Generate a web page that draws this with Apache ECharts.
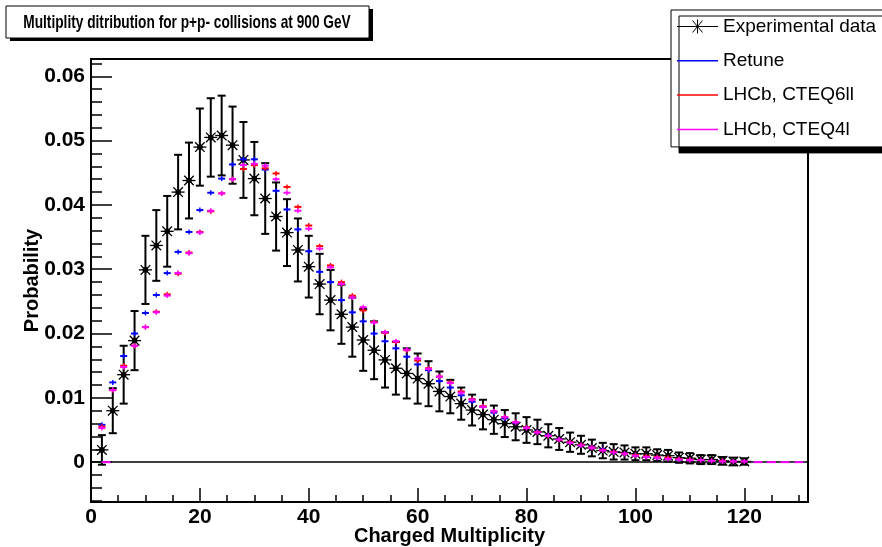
<!DOCTYPE html>
<html><head><meta charset="utf-8">
<script src="https://cdn.jsdelivr.net/npm/echarts@6/dist/echarts.min.js"></script>
<style>html,body{margin:0;padding:0;background:#fff}#c{width:882px;height:547px}</style>
</head><body><div id="c"></div>
<script>
const titleText = 'Multiplity ditribution for p+p- collisions at 900 GeV';
const xAxisTitle = 'Charged Multiplicity';
const yAxisTitle = 'Probability';
const seriesNames = ['Experimental data', 'Retune', 'LHCb, CTEQ6ll', 'LHCb, CTEQ4l'];

const multiplicity = [2,4,6,8,10,12,14,16,18,20,22,24,26,28,30,32,34,36,38,40,42,44,46,48,50,52,54,56,58,60,
  62,64,66,68,70,72,74,76,78,80,82,84,86,88,90,92,94,96,98,100,102,104,106,108,110,112,114,116,118,120];

const expData = [0.0019,0.0080,0.0136,0.0189,0.0299,0.0337,0.0359,0.0420,0.0438,0.0490,
  0.0505,0.0508,0.0493,0.0470,0.0441,0.0410,0.0382,0.0357,0.0330,0.0304,
  0.0277,0.0252,0.0230,0.0210,0.0190,0.0174,0.0159,0.0146,0.0138,0.0130,
  0.0122,0.0110,0.0102,0.0091,0.0081,0.0074,0.0066,0.0060,0.0055,0.0050,
  0.0047,0.0041,0.0036,0.0031,0.0027,0.0022,0.0018,0.0016,0.0015,0.0013,
  0.0013,0.0011,0.0010,0.0007,0.0006,0.0004,0.0004,0.0002,0.0001,0.0001];

const expErr = [0.0023,0.0035,0.0045,0.0046,0.0053,0.0055,0.0055,0.0058,0.0059,0.0060,
  0.0061,0.0062,0.0060,0.0059,0.0057,0.0055,0.0053,0.0052,0.0049,0.0048,
  0.0047,0.0047,0.0046,0.0046,0.0048,0.0045,0.0043,0.0041,0.0039,0.0039,
  0.0035,0.0031,0.0026,0.0025,0.0024,0.0023,0.0022,0.0021,0.0021,0.0020,
  0.0019,0.0018,0.0017,0.0015,0.0014,0.0013,0.0012,0.0012,0.0011,0.0010,
  0.0010,0.0009,0.0009,0.0008,0.0008,0.0007,0.0007,0.0006,0.0006,0.0005];

const retune = [0.0058,0.0124,0.0165,0.0200,0.0232,0.0260,0.0294,0.0327,0.0358,0.0392,
  0.0419,0.0441,0.0463,0.0471,0.0471,0.0455,0.0422,0.0393,0.0362,0.0328,
  0.0296,0.0280,0.0252,0.0233,0.0219,0.0200,0.0188,0.0177,0.0164,0.0152,
  0.0143,0.0126,0.0116,0.0104,0.0094,0.0086,0.0077,0.0068,0.0061,0.0054,
  0.0048,0.0042,0.0036,0.0031,0.0027,0.0024,0.0020,0.0016,0.0013,0.0011,
  0.0008,0.0007,0.0006,0.0005,0.0004,0.0003,0.0002,0.0002,0.0001,0.0001];

const cteq6ll = [0.0055,0.0112,0.0150,0.0181,0.0210,0.0234,0.0261,0.0293,0.0326,0.0358,
  0.0390,0.0418,0.0440,0.0456,0.0462,0.0457,0.0449,0.0428,0.0397,0.0368,
  0.0336,0.0306,0.0280,0.0259,0.0236,0.0218,0.0201,0.0187,0.0174,0.0158,
  0.0146,0.0133,0.0124,0.0110,0.0098,0.0087,0.0079,0.0070,0.0062,0.0054,
  0.0047,0.0041,0.0035,0.0031,0.0027,0.0023,0.0019,0.0016,0.0013,0.0011,
  0.0009,0.0008,0.0007,0.0005,0.0004,0.0003,0.0002,0.0002,0.0001,0.0001];

const cteq4l = [0.0053,0.0112,0.0148,0.0181,0.0210,0.0233,0.0259,0.0294,0.0325,0.0357,
  0.0391,0.0418,0.0440,0.0462,0.0464,0.0461,0.0440,0.0419,0.0391,0.0363,
  0.0332,0.0303,0.0277,0.0256,0.0241,0.0217,0.0202,0.0188,0.0175,0.0161,
  0.0145,0.0133,0.0123,0.0108,0.0097,0.0086,0.0079,0.0070,0.0062,0.0053,
  0.0046,0.0041,0.0035,0.0030,0.0026,0.0022,0.0018,0.0015,0.0013,0.0010,
  0.0008,0.0007,0.0005,0.0004,0.0003,0.0003,0.0002,0.0001,0.0001,0.0001];

// empty (zero) bins of the CTEQ4l histogram that show as dashes on the zero line
const zeroBinsX = [2.8, 122.5, 125, 127.5, 130];
const zeroBinsY = [0, 0, 0, 0, 0];

const xMajorTicks = [0, 20, 40, 60, 80, 100, 120];
const xMinorTicks = [5,10,15,25,30,35,45,50,55,65,70,75,85,90,95,105,110,115,125,130];
const yMajorTicks = [0, 0.01, 0.02, 0.03, 0.04, 0.05, 0.06];
const yMinorTicks = [-0.006,-0.004,-0.002,0.002,0.004,0.006,0.008,0.012,0.014,0.016,0.018,0.022,0.024,0.026,0.028,
  0.032,0.034,0.036,0.038,0.042,0.044,0.046,0.048,0.052,0.054,0.056,0.058,0.062];

const X_MIN = 0, X_MAX = 131.7, Y_MIN = -0.0062, Y_MAX = 0.0627;

const FONT = "'Liberation Sans', Arial, Helvetica, sans-serif";

function renderExp(params, api) {
  const x = api.value(0), y = api.value(1), e = api.value(2);
  const c = api.coord([x, y]);
  const t = api.coord([x, y + e]);
  const b = api.coord([x, y - e]);
  const cap = 4, s = 6.5, d = 4.8;
  const st = { stroke: '#000', lineWidth: 2 };
  const ss = { stroke: '#000', lineWidth: 1.3 };
  return { type: 'group', children: [
    { type: 'line', shape: { x1: c[0], y1: t[1], x2: c[0], y2: b[1] }, style: st },
    { type: 'line', shape: { x1: c[0] - cap, y1: t[1], x2: c[0] + cap, y2: t[1] }, style: st },
    { type: 'line', shape: { x1: c[0] - cap, y1: b[1], x2: c[0] + cap, y2: b[1] }, style: st },
    { type: 'line', shape: { x1: c[0] - s, y1: c[1], x2: c[0] + s, y2: c[1] }, style: ss },
    { type: 'line', shape: { x1: c[0] - d, y1: c[1] - d, x2: c[0] + d, y2: c[1] + d }, style: ss },
    { type: 'line', shape: { x1: c[0] - d, y1: c[1] + d, x2: c[0] + d, y2: c[1] - d }, style: ss },
    { type: 'circle', shape: { cx: c[0], cy: c[1], r: 2.8 }, style: { fill: '#000' } }
  ]};
}

function makeMC(color, half) {
  return function (params, api) {
    const c = api.coord([api.value(0), api.value(1)]);
    return { type: 'group', children: [
      { type: 'line', shape: { x1: c[0] - half, y1: c[1], x2: c[0] + half, y2: c[1] }, style: { stroke: color, lineWidth: 2 } },
      { type: 'line', shape: { x1: c[0], y1: c[1] - 2.5, x2: c[0], y2: c[1] + 2.5 }, style: { stroke: color, lineWidth: 1.4 } }
    ]};
  };
}
function makeDash(color, half) {
  return function (params, api) {
    const c = api.coord([api.value(0), api.value(1)]);
    return { type: 'line', shape: { x1: c[0] - half, y1: c[1], x2: c[0] + half, y2: c[1] }, style: { stroke: color, lineWidth: 2 } };
  };
}

const expSeriesData = multiplicity.map((x, i) => [x, expData[i], expErr[i]]);
const pair = arr => multiplicity.map((x, i) => [x, arr[i]]);
const zeroData = zeroBinsX.map((x, i) => [x, zeroBinsY[i]]);

const starIcon = 'path://M0,6.5 H41 V7.5 H0 Z M20,0 H21 V14 H20 Z M15,1 L16,1 L26,13 L25,13 Z M25,1 L26,1 L16,13 L15,13 Z';
const lineIcon = 'path://M0,0 H41 V1.5 H0 Z';

const chart = echarts.init(document.getElementById('c'), null, { renderer: 'canvas' });
chart.setOption({
  animation: false,
  backgroundColor: '#fff',
  graphic: [
    { type: 'rect', z: 10, shape: { x: 10, y: 9, width: 363, height: 32 }, style: { fill: '#000' } },
    { type: 'rect', z: 11, shape: { x: 6, y: 6, width: 363, height: 32 }, style: { fill: '#fff', stroke: '#000', lineWidth: 1 } },
    { type: 'text', z: 12, x: 187, y: 22.5, scaleX: 0.74, scaleY: 1,
      style: { text: titleText, x: 0, y: 0, align: 'center', verticalAlign: 'middle',
        font: "bold 18.5px 'Liberation Sans', Arial, sans-serif", fill: '#000' } }
  ],
  legend: {
    orient: 'vertical', left: 671, top: 10,
    data: [
      { name: seriesNames[0], icon: starIcon },
      { name: seriesNames[1], icon: lineIcon },
      { name: seriesNames[2], icon: lineIcon },
      { name: seriesNames[3], icon: lineIcon }
    ],
    itemWidth: 41, itemHeight: 14, itemGap: 15.3, itemTextGap: 9,
    padding: [7, 60, 8, 6],
    backgroundColor: '#fff', borderColor: '#000', borderWidth: 1,
    shadowColor: '#000', shadowBlur: 0, shadowOffsetX: 8, shadowOffsetY: 6,
    selectedMode: false,
    textStyle: { fontFamily: FONT, fontSize: 19, color: '#000', lineHeight: 19 }
  },
  grid: { left: 91, right: 74, top: 59, bottom: 45, outerBoundsMode: 'none', containLabel: false,
    show: true, borderColor: '#000', borderWidth: 2, backgroundColor: 'transparent' },
  xAxis: [{
    type: 'value', min: X_MIN, max: X_MAX, position: 'bottom',
    name: xAxisTitle, nameLocation: 'middle', nameGap: 24, nameMoveOverlap: false,
    nameTextStyle: { fontFamily: FONT, fontSize: 20, fontWeight: 'bold', color: '#000' },
    axisLine: { show: true, onZero: false, lineStyle: { color: '#000', width: 2 } },
    axisTick: { show: true, inside: true, length: 14, customValues: xMajorTicks, lineStyle: { color: '#000', width: 1.5 } },
    axisLabel: { show: true, customValues: xMajorTicks, margin: 5, fontFamily: FONT, fontSize: 21, fontWeight: 'bold', color: '#000' },
    splitLine: { show: false }
  }, {
    type: 'value', min: X_MIN, max: X_MAX, position: 'bottom',
    axisLine: { show: false, onZero: false },
    axisTick: { show: true, inside: true, length: 7, customValues: xMinorTicks, lineStyle: { color: '#000', width: 1.5 } },
    axisLabel: { show: false }, splitLine: { show: false }
  }],
  yAxis: [{
    type: 'value', min: Y_MIN, max: Y_MAX, position: 'left',
    name: yAxisTitle, nameLocation: 'middle', nameGap: 49, nameRotate: 90, nameMoveOverlap: false,
    nameTextStyle: { fontFamily: FONT, fontSize: 20, fontWeight: 'bold', color: '#000' },
    axisLine: { show: true, onZero: false, lineStyle: { color: '#000', width: 2 } },
    axisTick: { show: true, inside: true, length: 21, customValues: yMajorTicks, lineStyle: { color: '#000', width: 1.5 } },
    axisLabel: { show: true, customValues: yMajorTicks, margin: 6, fontFamily: FONT, fontSize: 21, fontWeight: 'bold', color: '#000',
      formatter: v => (Math.abs(v) < 1e-9 ? '0' : v.toFixed(2)) },
    splitLine: { show: false }
  }, {
    type: 'value', min: Y_MIN, max: Y_MAX, position: 'left',
    axisLine: { show: false, onZero: false },
    axisTick: { show: true, inside: true, length: 11, customValues: yMinorTicks, lineStyle: { color: '#000', width: 1.5 } },
    axisLabel: { show: false }, splitLine: { show: false }
  }],
  series: [
    { name: seriesNames[0], type: 'custom', xAxisIndex: 0, yAxisIndex: 0, renderItem: renderExp,
      itemStyle: { color: '#000' }, encode: { x: 0, y: 1 }, data: expSeriesData, z: 2,
      markLine: { silent: true, symbol: 'none', label: { show: false }, animation: false,
        lineStyle: { color: '#000', width: 1.5, type: 'solid' }, data: [{ yAxis: 0 }] } },
    { name: seriesNames[1], type: 'custom', renderItem: makeMC('#0000ff', 3.5), itemStyle: { color: '#0000ff' },
      encode: { x: 0, y: 1 }, data: pair(retune), z: 3 },
    { name: seriesNames[2], type: 'custom', renderItem: makeMC('#ff0000', 3.5), itemStyle: { color: '#ff0000' },
      encode: { x: 0, y: 1 }, data: pair(cteq6ll), z: 4 },
    { name: seriesNames[3], type: 'custom', renderItem: makeMC('#ff00ff', 3.5), itemStyle: { color: '#ff00ff' },
      encode: { x: 0, y: 1 }, data: pair(cteq4l), z: 5 },
    { name: seriesNames[3], type: 'custom', renderItem: makeDash('#ff00ff', 4.5), itemStyle: { color: '#ff00ff' },
      encode: { x: 0, y: 1 }, data: zeroData, z: 5 }
  ]
});
</script></body></html>
